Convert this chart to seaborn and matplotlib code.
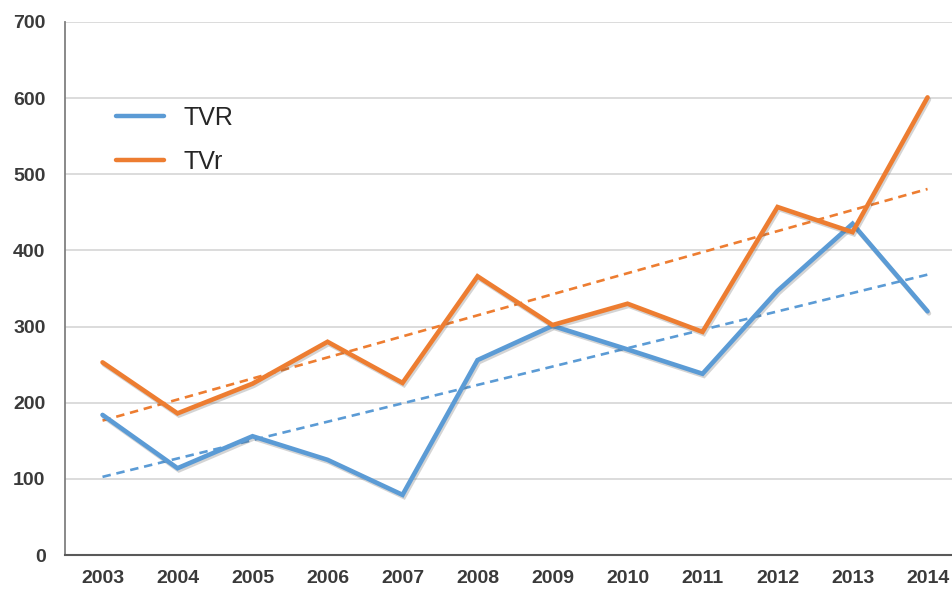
import matplotlib
matplotlib.use("Agg")
import matplotlib.pyplot as plt
import matplotlib.patheffects as pe
import numpy as np
import pandas as pd
import seaborn as sns

years = [2003, 2004, 2005, 2006, 2007, 2008, 2009, 2010, 2011, 2012, 2013, 2014]
tvr_upper = [184, 114, 156, 125, 79, 256, 301, 270, 238, 347, 435, 320]
tvr_lower = [253, 186, 225, 280, 226, 366, 302, 330, 293, 457, 424, 601]
series_names = ["TVR", "TVr"]
colors = {"TVR": "#5B9BD5", "TVr": "#ED7D31"}
y_ticks = [0, 100, 200, 300, 400, 500, 600, 700]

df = pd.DataFrame({
    "year": years * 2,
    "value": tvr_upper + tvr_lower,
    "series": ["TVR"] * len(years) + ["TVr"] * len(years),
})

sns.set_style("white")
plt.rcParams["font.family"] = ["Liberation Sans", "DejaVu Sans"]

fig = plt.figure(figsize=(9.52, 5.89), dpi=100)
ax = fig.add_axes([0.0683, 0.0577, 0.9454, 0.905])

shadow = [pe.SimpleLineShadow(offset=(1, -1.5), alpha=0.25, shadow_color="#555555"), pe.Normal()]

# trend lines first (below)
for name, vals in zip(series_names, [tvr_upper, tvr_lower]):
    k, b = np.polyfit(years, vals, 1)
    trend = pd.DataFrame({"year": years, "value": np.polyval([k, b], years)})
    sns.lineplot(data=trend, x="year", y="value", ax=ax, color=colors[name],
                 linewidth=1.9, linestyle=(0, (3.2, 2.2)), legend=False)

sns.lineplot(data=df, x="year", y="value", hue="series", hue_order=series_names,
             palette=colors, linewidth=3.3, ax=ax, legend=False)
for line in ax.lines[2:]:
    line.set_path_effects(shadow)
    line.set_solid_joinstyle("miter")

ax.set_xlim(2002.5, 2014.5)
ax.set_ylim(0, 700)
ax.set_xticks(years)
ax.set_yticks(y_ticks)
ax.set_xticklabels([str(y) for y in years], fontsize=14, fontweight="bold", color="#3A3A3A")
ax.set_yticklabels([str(v) for v in y_ticks], fontsize=14, fontweight="bold", color="#3A3A3A")
ax.tick_params(axis="y", length=0, pad=14)
ax.tick_params(axis="x", length=0, pad=11)
ax.set_xlabel("")
ax.set_ylabel("")
ax.yaxis.grid(True, color="#D9D9D9", linewidth=1.3)
ax.set_axisbelow(True)
for s in ["top", "right"]:
    ax.spines[s].set_visible(False)
ax.spines["left"].set_color("#808080")
ax.spines["left"].set_linewidth(1.3)
ax.spines["bottom"].set_color("#595959")
ax.spines["bottom"].set_linewidth(1.5)

handles = [plt.Line2D([], [], color=colors[n], linewidth=3.2, solid_capstyle="round") for n in series_names]
ax.legend(handles, series_names, loc="upper left", bbox_to_anchor=(0.032, 0.885),
          frameon=False, fontsize=18, handlelength=1.9, handletextpad=0.8, labelspacing=0.8)

fig.savefig("out.png", dpi=100)
